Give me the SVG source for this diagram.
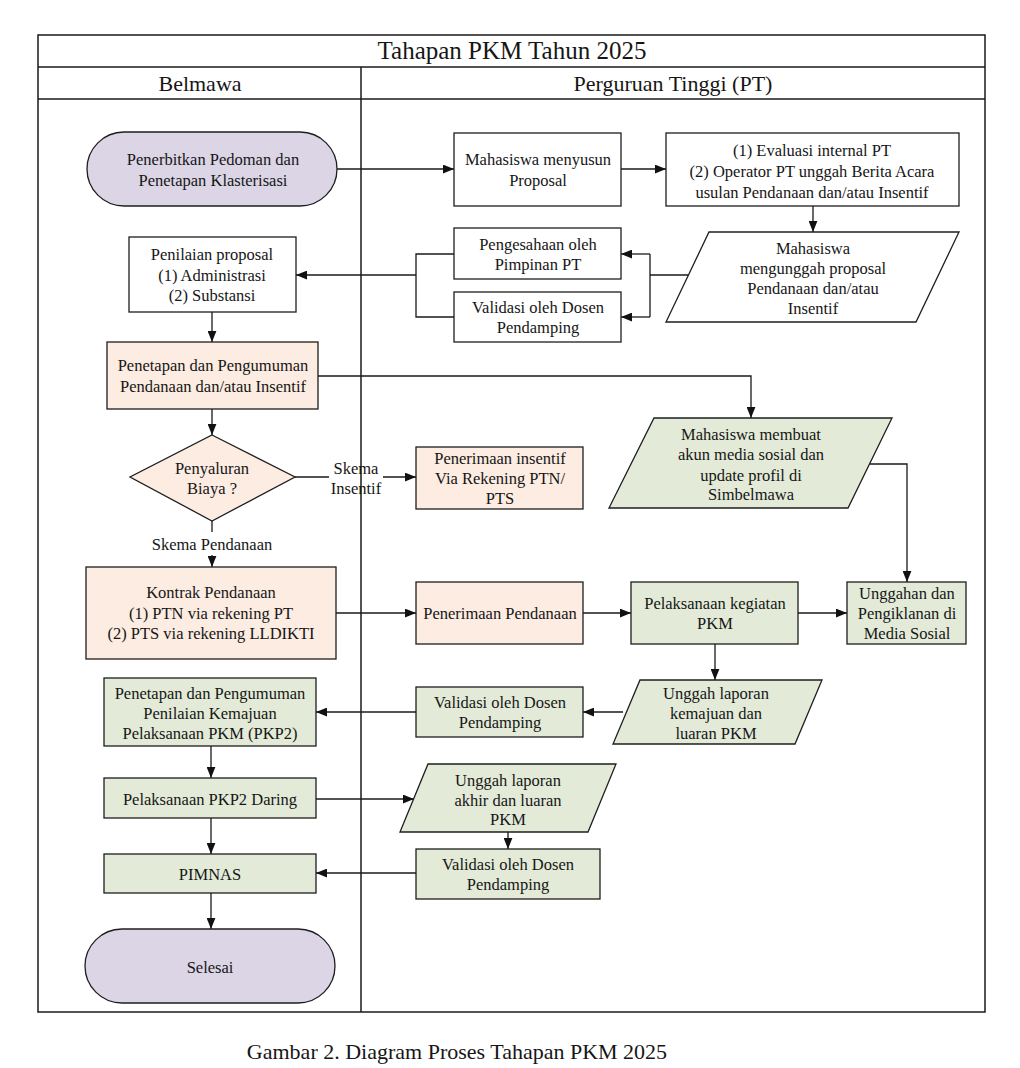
<svg xmlns="http://www.w3.org/2000/svg" width="1020" height="1068" viewBox="0 0 1020 1068">
<style>
.t{font-family:"Liberation Serif","Times New Roman",serif;font-size:16.5px;fill:#161616;text-anchor:middle}
.h{font-family:"Liberation Serif","Times New Roman",serif;font-size:22px;fill:#161616;text-anchor:middle}
.b{stroke:#1e1e1e;stroke-width:1.3}
.w{fill:#ffffff}
.lav{fill:#dbd5e6}
.pch{fill:#fdece1}
.grn{fill:#e3ebd8}
.c{fill:none;stroke:#1a1a1a;stroke-width:1.3}
.a{marker-end:url(#ah)}
.f{fill:none;stroke:#1a1a1a;stroke-width:1.5}
</style>
<defs>
<marker id="ah" viewBox="0 0 10 8" refX="10" refY="4" markerWidth="11" markerHeight="9" orient="auto" markerUnits="userSpaceOnUse"><path d="M0,0 L10,4 L0,8 z" fill="#111"/></marker>
</defs>
<rect width="1020" height="1068" fill="#ffffff"/>
<g id="frame">
<rect class="f" x="38" y="35" width="947" height="977"/>
<line class="f" x1="38" y1="67" x2="985" y2="67"/>
<line class="f" x1="38" y1="99" x2="985" y2="99"/>
<line class="f" x1="361" y1="67" x2="361" y2="1012"/>
<text class="h" x="512" y="59" style="font-size:25px">Tahapan PKM Tahun 2025</text>
<text class="h" x="200" y="91">Belmawa</text>
<text class="h" x="673" y="91">Perguruan Tinggi (PT)</text>
</g>
<g id="connectors">
<path class="c a" d="M337,169 H454"/>
<path class="c a" d="M621,169 H666"/>
<path class="c a" d="M813,206 V232"/>
<path class="c" d="M688,275 H650 M650,254 V317"/>
<path class="c a" d="M650,254 H621"/>
<path class="c a" d="M650,317 H621"/>
<path class="c" d="M454,254 H416 V317 H454"/>
<path class="c a" d="M416,275 H296"/>
<path class="c a" d="M212,312 V342"/>
<path class="c a" d="M318,376 H751 V418"/>
<path class="c a" d="M212,409 V435"/>
<path class="c" d="M295,477 H329"/>
<path class="c a" d="M383,477 H416"/>
<text class="t" x="356" y="474">Skema</text>
<text class="t" x="356" y="494">Insentif</text>
<path class="c" d="M212,521 V532"/>
<text class="t" x="212" y="550">Skema Pendanaan</text>
<path class="c a" d="M212,555 V567"/>
<path class="c a" d="M336,613 H416"/>
<path class="c a" d="M583,613 H631"/>
<path class="c a" d="M798,613 H847"/>
<path class="c a" d="M870,464 H907 V582"/>
<path class="c a" d="M715,644 V680"/>
<path class="c a" d="M623,712 H583"/>
<path class="c a" d="M416,712 H316"/>
<path class="c a" d="M211,746 V778"/>
<path class="c a" d="M316,799 H414"/>
<path class="c a" d="M508,832 V849"/>
<path class="c a" d="M416,873 H316"/>
<path class="c a" d="M211,818 V854"/>
<path class="c a" d="M211,893 V929"/>
</g>
<g id="start">
<rect class="b lav" x="87" y="132" width="250" height="74" rx="37"/>
<text class="t" x="213" y="165">Penerbitkan Pedoman dan</text>
<text class="t" x="213" y="186">Penetapan Klasterisasi</text>
</g>
<g id="menyusun">
<rect class="b w" x="454" y="133" width="167" height="73"/>
<text class="t" x="538" y="165">Mahasiswa menyusun</text>
<text class="t" x="538" y="186">Proposal</text>
</g>
<g id="evaluasi">
<rect class="b w" x="666" y="133" width="293" height="73"/>
<text class="t" x="812" y="156">(1) Evaluasi internal PT</text>
<text class="t" x="812" y="177">(2) Operator PT unggah Berita Acara</text>
<text class="t" x="812" y="198">usulan Pendanaan dan/atau Insentif</text>
</g>
<g id="mengunggah">
<polygon class="b w" points="709,232 959,232 916,322 666,322"/>
<text class="t" x="813" y="254">Mahasiswa</text>
<text class="t" x="813" y="274">mengunggah proposal</text>
<text class="t" x="813" y="294">Pendanaan dan/atau</text>
<text class="t" x="813" y="314">Insentif</text>
</g>
<g id="pengesahaan">
<rect class="b w" x="454" y="228" width="167" height="51"/>
<text class="t" x="538" y="250">Pengesahaan oleh</text>
<text class="t" x="538" y="270">Pimpinan PT</text>
</g>
<g id="validasi1">
<rect class="b w" x="454" y="292" width="167" height="50"/>
<text class="t" x="538" y="313">Validasi oleh Dosen</text>
<text class="t" x="538" y="333">Pendamping</text>
</g>
<g id="penilaian">
<rect class="b w" x="129" y="237" width="167" height="75"/>
<text class="t" x="212" y="260">Penilaian proposal</text>
<text class="t" x="212" y="281">(1) Administrasi</text>
<text class="t" x="212" y="301">(2) Substansi</text>
</g>
<g id="pengumuman">
<rect class="b pch" x="107" y="342" width="211" height="67"/>
<text class="t" x="213" y="371">Penetapan dan Pengumuman</text>
<text class="t" x="213" y="392">Pendanaan dan/atau Insentif</text>
</g>
<g id="penyaluran">
<polygon class="b pch" points="212,435 295,477 212,521 130,477"/>
<text class="t" x="212" y="474">Penyaluran</text>
<text class="t" x="212" y="494">Biaya ?</text>
</g>
<g id="insentif">
<rect class="b pch" x="416" y="447" width="167" height="62"/>
<text class="t" x="500" y="464">Penerimaan insentif</text>
<text class="t" x="500" y="484">Via Rekening PTN/</text>
<text class="t" x="500" y="504">PTS</text>
</g>
<g id="membuat">
<polygon class="b grn" points="654,418 892,418 848,508 609,508"/>
<text class="t" x="751" y="440">Mahasiswa membuat</text>
<text class="t" x="751" y="460">akun media sosial dan</text>
<text class="t" x="751" y="481">update profil di</text>
<text class="t" x="751" y="500">Simbelmawa</text>
</g>
<g id="kontrak">
<rect class="b pch" x="86" y="567" width="250" height="92"/>
<text class="t" x="211" y="598">Kontrak Pendanaan</text>
<text class="t" x="211" y="619">(1) PTN via rekening PT</text>
<text class="t" x="211" y="639">(2) PTS via rekening LLDIKTI</text>
</g>
<g id="penerimaan">
<rect class="b pch" x="416" y="582" width="167" height="62"/>
<text class="t" x="500" y="619">Penerimaan Pendanaan</text>
</g>
<g id="pelaksanaan">
<rect class="b grn" x="631" y="582" width="167" height="62"/>
<text class="t" x="715" y="609">Pelaksanaan kegiatan</text>
<text class="t" x="715" y="629">PKM</text>
</g>
<g id="unggahan">
<rect class="b grn" x="847" y="582" width="119" height="62"/>
<text class="t" x="907" y="599">Unggahan dan</text>
<text class="t" x="907" y="619">Pengiklanan di</text>
<text class="t" x="907" y="639">Media Sosial</text>
</g>
<g id="kemajuan">
<polygon class="b grn" points="640,680 822,680 795,744 613,744"/>
<text class="t" x="716" y="699">Unggah laporan</text>
<text class="t" x="716" y="719">kemajuan dan</text>
<text class="t" x="716" y="739">luaran PKM</text>
</g>
<g id="validasi2">
<rect class="b grn" x="416" y="687" width="167" height="50"/>
<text class="t" x="500" y="708">Validasi oleh Dosen</text>
<text class="t" x="500" y="728">Pendamping</text>
</g>
<g id="pkp2">
<rect class="b grn" x="104" y="678" width="212" height="68"/>
<text class="t" x="210" y="699">Penetapan dan Pengumuman</text>
<text class="t" x="210" y="719">Penilaian Kemajuan</text>
<text class="t" x="210" y="739">Pelaksanaan PKM (PKP2)</text>
</g>
<g id="daring">
<rect class="b grn" x="104" y="778" width="212" height="40"/>
<text class="t" x="210" y="805">Pelaksanaan PKP2 Daring</text>
</g>
<g id="akhir">
<polygon class="b grn" points="428,764 616,764 588,832 400,832"/>
<text class="t" x="508" y="786">Unggah laporan</text>
<text class="t" x="508" y="806">akhir dan luaran</text>
<text class="t" x="508" y="825">PKM</text>
</g>
<g id="validasi3">
<rect class="b grn" x="416" y="849" width="184" height="50"/>
<text class="t" x="508" y="870">Validasi oleh Dosen</text>
<text class="t" x="508" y="890">Pendamping</text>
</g>
<g id="pimnas">
<rect class="b grn" x="104" y="854" width="212" height="39"/>
<text class="t" x="210" y="880">PIMNAS</text>
</g>
<g id="selesai">
<rect class="b lav" x="85" y="929" width="250" height="74" rx="37"/>
<text class="t" x="210" y="973">Selesai</text>
</g>
<text class="h" x="457" y="1059">Gambar 2. Diagram Proses Tahapan PKM 2025</text>
</svg>
